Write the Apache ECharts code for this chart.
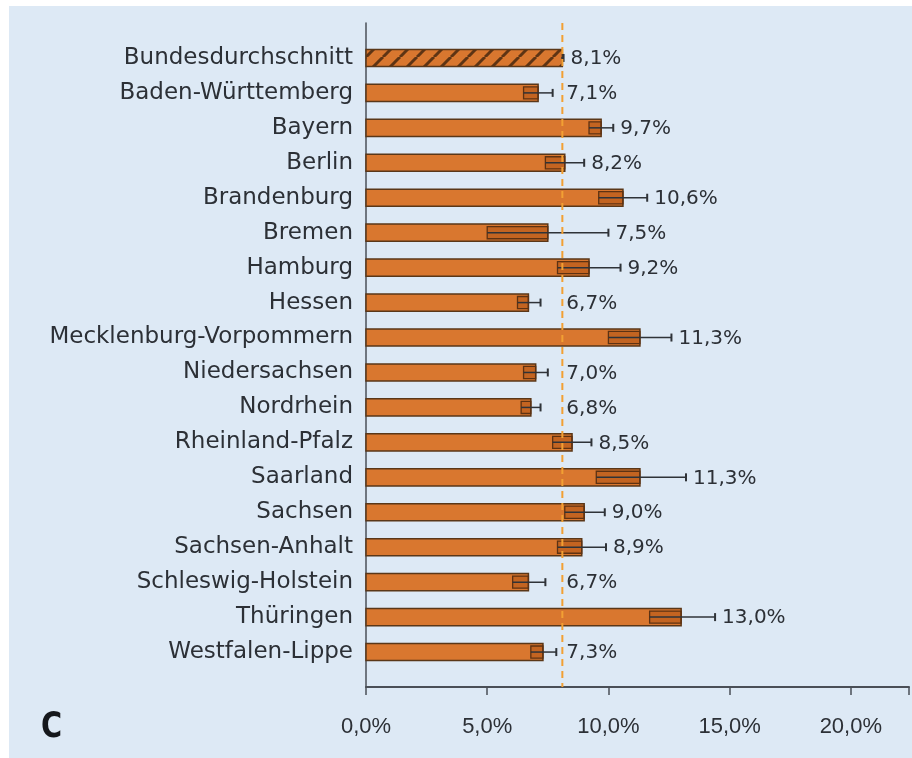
<!DOCTYPE html>
<html><head><meta charset="utf-8">
<script src="https://cdn.jsdelivr.net/npm/echarts@6/dist/echarts.min.js"></script>
<style>html,body{margin:0;padding:0;background:#fff;}#c{position:absolute;left:9px;top:6px;width:903px;height:752px;background:#dde9f5;}</style>
</head><body><div id="c"></div>
<script>
const categories = ['Bundesdurchschnitt','Baden-Württemberg','Bayern','Berlin','Brandenburg','Bremen','Hamburg','Hessen','Mecklenburg-Vorpommern','Niedersachsen','Nordrhein','Rheinland-Pfalz','Saarland','Sachsen','Sachsen-Anhalt','Schleswig-Holstein','Thüringen','Westfalen-Lippe'];
const values = [8.1,7.1,9.7,8.2,10.6,7.5,9.2,6.7,11.3,7.0,6.8,8.5,11.3,9.0,8.9,6.7,13.0,7.3];
const lower  = [8.05,6.5,9.2,7.4,9.6,5.0,7.9,6.25,10.0,6.5,6.4,7.7,9.5,8.2,7.9,6.05,11.7,6.8];
const upper  = [8.15,7.7,10.2,9.0,11.6,10.0,10.5,7.2,12.6,7.5,7.2,9.3,13.2,9.85,9.9,7.4,14.4,7.85];
const valueLabels = ['8,1%','7,1%','9,7%','8,2%','10,6%','7,5%','9,2%','6,7%','11,3%','7,0%','6,8%','8,5%','11,3%','9,0%','8,9%','6,7%','13,0%','7,3%'];
const xTickLabels = ['0,0%','5,0%','10,0%','15,0%','20,0%'];
const panelLetter = 'C';

const FILL = '#d9772f', EDGE = '#5a3718', INK = '#2c3036';
const FONT = '"DejaVu Sans", "Liberation Sans", Arial, sans-serif';

// hatch pattern for the average bar
const pc = document.createElement('canvas'); pc.width = 17; pc.height = 17;
const g = pc.getContext('2d');
g.fillStyle = FILL; g.fillRect(0,0,17,17);
g.strokeStyle = '#5e3414'; g.lineWidth = 3;
[-17,0,17].forEach(k => { g.beginPath(); g.moveTo(k,17); g.lineTo(k+17,0); g.stroke(); });
const hatch = {image: pc, repeat: 'repeat'};

const data = values.map((v,i) => [v, i, lower[i], upper[i]]);

const chart = echarts.init(document.getElementById('c'));

function renderItem(params, api) {
  const v = api.value(0), i = api.value(1), lo = api.value(2), hi = api.value(3);
  const c0 = api.coord([0,i]), cv = api.coord([v,i]), cl = api.coord([lo,i]), ch = api.coord([hi,i]);
  const refX = api.coord([values[0], 0])[0];
  const band = api.size([0,1])[1];
  const h = band * 0.49;
  const y = c0[1];
  const ch_ = [];
  ch_.push({type:'rect', shape:{x:c0[0], y:y-h/2, width:cv[0]-c0[0], height:h},
    style:{fill: i === 0 ? hatch : FILL, stroke: EDGE, lineWidth: 1.5}});
  if (i > 0) {
    ch_.push({type:'rect', shape:{x:cl[0], y:y-h/2+2.5, width:cv[0]-cl[0], height:h-5},
      style:{fill:'rgba(140,55,0,0.28)', stroke:'#5e3212', lineWidth:1.3}});
  }
  ch_.push({type:'line', shape:{x1:cl[0], y1:y, x2:ch[0], y2:y}, style:{stroke:'#2f3338', lineWidth:1.5}});
  ch_.push({type:'line', shape:{x1:ch[0], y1:y-4, x2:ch[0], y2:y+4}, style:{stroke:'#2f3338', lineWidth:2}});
  ch_.push({type:'text', x: Math.max(ch[0]+7, refX+4), y: y+1,
    style:{text: valueLabels[i], fill: INK, fontSize: 20, fontFamily: FONT, align:'left', verticalAlign:'middle'}});
  return {type:'group', children: ch_};
}

chart.setOption({
  animation: false,
  grid: {left: 357, right: 0, top: 17, bottom: 71},
  xAxis: {
    type: 'value', min: 0, max: 22.4, interval: 5,
    axisLine: {show: true, onZero: false, lineStyle: {color: '#4a4f57', width: 2}},
    axisTick: {show: true, length: 8, lineStyle: {color: '#4a4f57', width: 1.5}},
    splitLine: {show: false},
    axisLabel: {margin: 29, color: INK, fontSize: 22, fontFamily: '"Liberation Sans", Arial, sans-serif',
      formatter: v => (Math.abs(v/5 - Math.round(v/5)) < 1e-6 ? (xTickLabels[Math.round(v/5)] || '') : '')}
  },
  yAxis: {
    type: 'value', inverse: true, min: -1, max: 18, interval: 1,
    axisLine: {show: true, onZero: false, lineStyle: {color: '#4a4f57', width: 1.5}},
    axisTick: {show: false}, splitLine: {show: false},
    axisLabel: {margin: 13, color: INK, fontSize: 23, fontFamily: FONT,
      formatter: v => categories[v] || ''}
  },
  graphic: [{type:'text', x: 32, y: 704, scaleX: 0.8,
    style:{text: panelLetter, fontSize: 36, fontWeight: 'bold', fontFamily: FONT, fill: '#15181c', verticalAlign: 'top'}}],
  series: [
    {type: 'custom', renderItem, data, encode: {x: 0, y: 1}, clip: false, z: 2},
    {type: 'line', data: [[values[0], -1], [values[0], 18]], symbol: 'none', silent: true, z: 5,
      lineStyle: {color: '#f2a033', width: 2, type: [7,5]}}
  ]
});
</script></body></html>
